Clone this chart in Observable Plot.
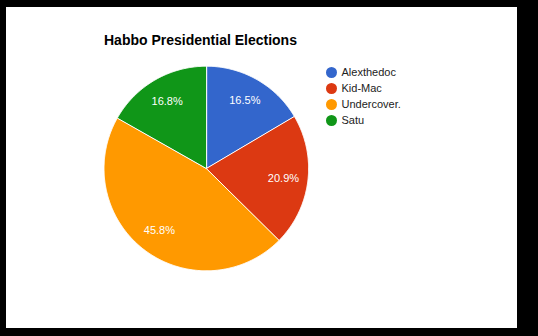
<!DOCTYPE html>
<html><head><meta charset="utf-8">
<script src="https://cdn.jsdelivr.net/npm/d3@7"></script>
<script src="https://cdn.jsdelivr.net/npm/@observablehq/plot@0.6"></script>
<style>
body{margin:0;background:#000;}
#wrap{position:relative;width:538px;height:336px;background:#000;overflow:hidden;font-family:Arial,"Liberation Sans",sans-serif;}
#card{position:absolute;left:6px;top:7px;width:511px;height:321px;background:#fff;}
#pie{position:absolute;left:0;top:0;}
#legend{position:absolute;left:325px;top:62px;}
#title{position:absolute;left:104px;top:33px;font:bold 14px Arial,"Liberation Sans",sans-serif;line-height:14px;color:#000;white-space:nowrap;}
</style>
</head><body>
<div id="wrap"><div id="card"></div><div id="title">Habbo Presidential Elections</div><div id="pie"></div><div id="legend"></div></div>
<script>
const names = ["Alexthedoc", "Kid-Mac", "Undercover.", "Satu"];
const values = [16.5, 20.9, 45.8, 16.8];
const colors = ["#3366cc", "#dc3912", "#ff9900", "#109618"];

const total = d3.sum(values);
const slices = [];
let acc = 0;
names.forEach((name, i) => {
  const a0 = acc / total * 2 * Math.PI;
  acc += values[i];
  const a1 = acc / total * 2 * Math.PI;
  slices.push({name, value: values[i], a0, a1});
});

// polygon outline of each slice (geometry derived from the values)
const outline = [];
for (const s of slices) {
  outline.push({name: s.name, x: 0, y: 0});
  const n = Math.max(2, Math.ceil((s.a1 - s.a0) / (Math.PI / 360)));
  for (let k = 0; k <= n; k++) {
    const a = s.a0 + (s.a1 - s.a0) * k / n;
    outline.push({name: s.name, x: Math.sin(a), y: Math.cos(a)});
  }
}
const labels = slices.map(s => {
  const m = (s.a0 + s.a1) / 2;
  return {name: s.name, x: 0.76 * Math.sin(m), y: 0.76 * Math.cos(m), text: (s.value / total * 100).toFixed(1) + "%"};
});

const cx = 205.8, cy = 168, R = 102.3;
const font = "Arial, 'Liberation Sans', sans-serif";

const pie = Plot.plot({
  width: 538, height: 336, margin: 0,
  style: {background: "transparent", fontFamily: font},
  x: {domain: [-1, 1], range: [cx - R, cx + R], axis: null},
  y: {domain: [-1, 1], range: [cy + R, cy - R], axis: null},
  color: {domain: names, range: colors},
  marks: [
    Plot.line(outline, {x: "x", y: "y", z: "name", fill: "name", stroke: "white", strokeWidth: 1, curve: "linear-closed"}),
    Plot.text(labels, {x: "x", y: "y", text: "text", fill: "white", fontSize: 11, fontFamily: font})
  ]
});
document.getElementById("pie").appendChild(pie);

const legend = Plot.plot({
  width: 110, height: 70, margin: 0,
  style: {background: "transparent", fontFamily: font},
  y: {type: "point", domain: names, range: [8.7, 59], padding: 0, axis: null},
  color: {domain: names, range: colors},
  marks: [
    Plot.dot(names, {y: d => d, fill: d => d, r: 5.5, frameAnchor: "left", dx: 6}),
    Plot.text(names, {y: d => d, text: d => d, frameAnchor: "left", dx: 16, textAnchor: "start", fill: "#222", fontSize: 11, fontFamily: font})
  ]
});
document.getElementById("legend").appendChild(legend);
</script>
</body></html>
